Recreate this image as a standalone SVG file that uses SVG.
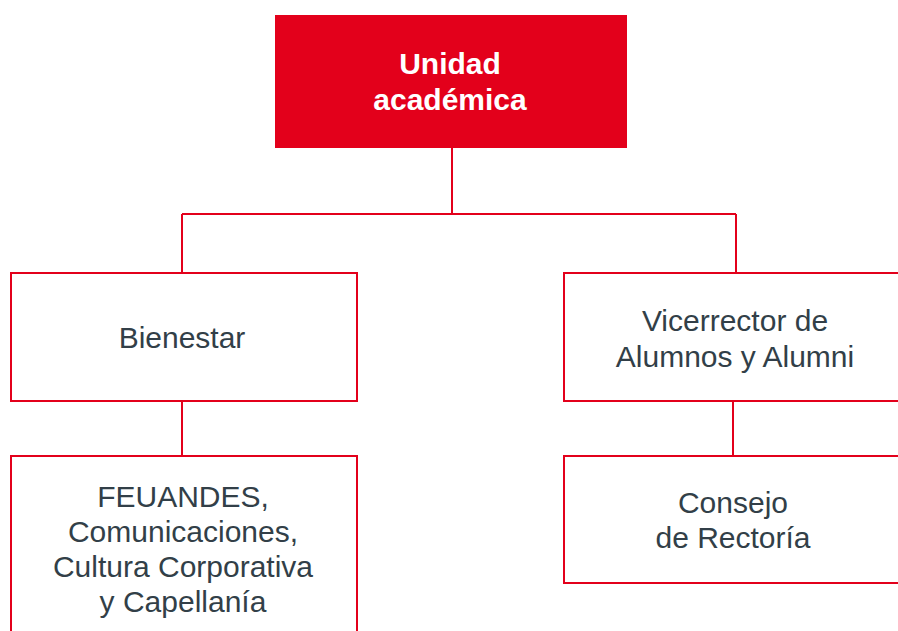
<svg xmlns="http://www.w3.org/2000/svg" width="898" height="631" viewBox="0 0 898 631">
<style>
.box{fill:#ffffff;stroke:#E3001B;stroke-width:2}
.line{fill:none;stroke:#E3001B;stroke-width:2}
.t{font-family:"Liberation Sans",Arial,sans-serif;font-size:30px;fill:#323F48;text-anchor:middle}
.tb{font-family:"Liberation Sans",Arial,sans-serif;font-size:30px;font-weight:bold;fill:#ffffff;text-anchor:middle}
</style>
<rect width="898" height="631" fill="#ffffff"/>
<g id="connectors">
<path class="line" d="M452 148 V214 M182 214 H736 M182 214 V273 M736 214 V273 M182 401 V456 M733 401 V456"/>
</g>
<g id="unidad">
<rect x="275" y="15" width="352" height="133" fill="#E3001B"/>
<text class="tb" x="450" y="74">Unidad</text>
<text class="tb" x="450" y="110">académica</text>
</g>
<g id="bienestar">
<rect class="box" x="11" y="273" width="346" height="128"/>
<text class="t" x="182" y="348">Bienestar</text>
</g>
<g id="vicerrector">
<rect class="box" x="564" y="273" width="344" height="128"/>
<text class="t" x="735" y="331">Vicerrector de</text>
<text class="t" x="735" y="367">Alumnos y Alumni</text>
</g>
<g id="feuandes">
<rect class="box" x="11" y="456" width="346" height="190"/>
<text class="t" x="183" y="507">FEUANDES,</text>
<text class="t" x="183" y="542">Comunicaciones,</text>
<text class="t" x="183" y="577">Cultura Corporativa</text>
<text class="t" x="183" y="612">y Capellanía</text>
</g>
<g id="consejo">
<rect class="box" x="564" y="456" width="344" height="127"/>
<text class="t" x="733" y="513">Consejo</text>
<text class="t" x="733" y="548">de Rectoría</text>
</g>
</svg>
